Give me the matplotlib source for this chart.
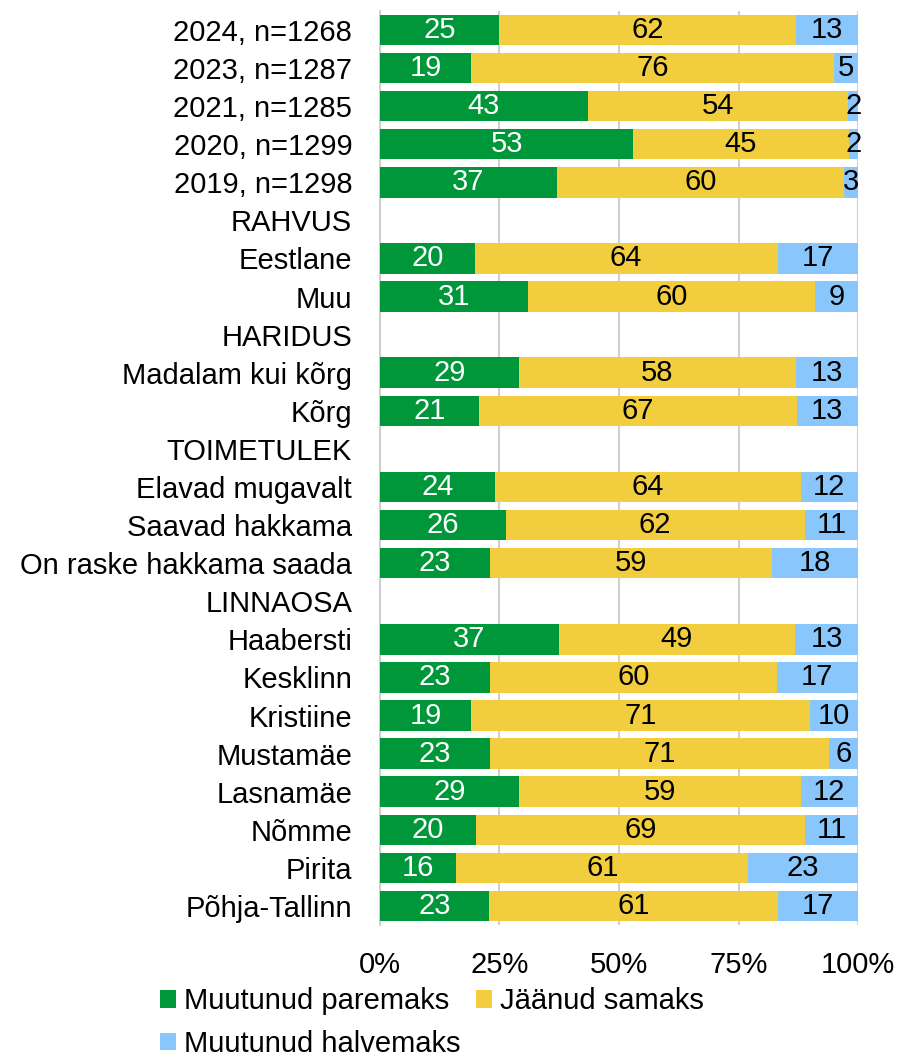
import numpy as np
import matplotlib.pyplot as plt
from matplotlib.patches import Patch

plt.rcParams['font.family'] = ['Liberation Sans', 'DejaVu Sans']

labels = ['2024, n=1268', '2023, n=1287', '2021, n=1285', '2020, n=1299', '2019, n=1298',
          'RAHVUS', 'Eestlane', 'Muu',
          'HARIDUS', 'Madalam kui kõrg', 'Kõrg',
          'TOIMETULEK', 'Elavad mugavalt', 'Saavad hakkama', 'On raske hakkama saada',
          'LINNAOSA', 'Haabersti', 'Kesklinn', 'Kristiine', 'Mustamäe', 'Lasnamäe',
          'Nõmme', 'Pirita', 'Põhja-Tallinn']
# None = section header row (no bar)
better = [25, 19, 43, 53, 37, None, 20, 31, None, 29, 21, None, 24, 26, 23,
          None, 37, 23, 19, 23, 29, 20, 16, 23]
same = [62, 76, 54, 45, 60, None, 64, 60, None, 58, 67, None, 64, 62, 59,
        None, 49, 60, 71, 71, 59, 69, 61, 61]
worse = [13, 5, 2, 2, 3, None, 17, 9, None, 13, 13, None, 12, 11, 18,
         None, 13, 17, 10, 6, 12, 11, 23, 17]

series_names = ['Muutunud paremaks', 'Jäänud samaks', 'Muutunud halvemaks']
colors = ['#00973A', '#F2CE3F', '#88C6FB']
text_colors = ['white', 'black', 'black']
fs = 21

fig = plt.figure(figsize=(8.97, 10.58), dpi=100)
ax = fig.add_axes([0.4236, 0.1257, 0.533, 0.864])

y = np.arange(len(labels))
left = np.zeros(len(labels))
for i, vals in enumerate([better, same, worse]):
    for j in range(len(labels)):
        if better[j] is None:
            continue
        total = better[j] + same[j] + worse[j]
        w = vals[j] / total * 100
        ax.barh(y[j], w, left=left[j], height=0.8, color=colors[i], zorder=3)
        ax.text(left[j] + w / 2, y[j], str(vals[j]), ha='center', va='center',
                fontsize=fs, color=text_colors[i], zorder=4)
        left[j] += w

ax.set_xlim(0, 100)
ax.set_ylim(len(labels) - 0.5, -0.5)
ax.set_yticks(y)
ax.set_yticklabels(labels, fontsize=fs)
ax.set_xticks([0, 25, 50, 75, 100])
ax.set_xticklabels(['0%', '25%', '50%', '75%', '100%'], fontsize=fs)
ax.tick_params(axis='y', length=0, pad=20)
ax.tick_params(axis='x', length=0, pad=19)
ax.grid(axis='x', color='#D0D0D0', linewidth=1.5, zorder=0)
for s in ['top', 'right', 'bottom']:
    ax.spines[s].set_visible(False)
ax.spines['left'].set_color('#D0D0D0')
ax.spines['left'].set_linewidth(1.5)

# column-first fill: order so that rows read paremaks, samaks / halvemaks
order = [0, 2, 1]
handles = [Patch(facecolor=colors[k]) for k in order]
fig.legend(handles, [series_names[k] for k in order], loc='upper left',
           bbox_to_anchor=(0.165, 0.078), ncol=2, frameon=False, fontsize=fs,
           handlelength=0.55, handleheight=0.55, handletextpad=0.3,
           columnspacing=0.5, labelspacing=0.5, borderaxespad=0)

fig.savefig('out.png', dpi=100)
